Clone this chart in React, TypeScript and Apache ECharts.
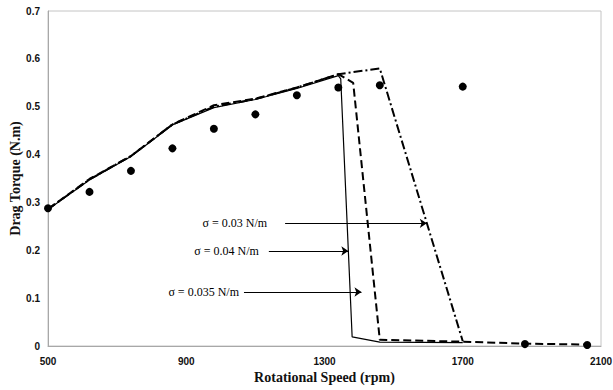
import React, { useEffect, useRef } from "react";
import * as echarts from "echarts";

const xTicks = [500, 900, 1300, 1700, 2100];
const expSpeed = [500, 620, 740, 860, 980, 1100, 1220, 1340, 1460, 1700, 1880, 2060];
const expTorque = [0.288, 0.322, 0.366, 0.413, 0.454, 0.484, 0.524, 0.54, 0.545, 0.542, 0.004, 0.002];

const s003Speed = [500, 620, 740, 860, 980, 1100, 1220, 1340, 1460, 1700];
const s003Torque = [0.286, 0.348, 0.397, 0.463, 0.5, 0.516, 0.54, 0.568, 0.58, 0.01];
const s0035Speed = [500, 620, 740, 860, 980, 1100, 1220, 1340, 1383, 1460, 1700, 1880, 2060];
const s0035Torque = [0.286, 0.349, 0.397, 0.463, 0.503, 0.517, 0.54, 0.568, 0.55, 0.013, 0.009, 0.005, 0.003];
const s004Speed = [500, 620, 740, 860, 980, 1100, 1220, 1340, 1347, 1380, 1460, 1700];
const s004Torque = [0.285, 0.347, 0.396, 0.462, 0.498, 0.515, 0.538, 0.565, 0.558, 0.019, 0.008, 0.007];

const annotationLabels = ["σ = 0.03 N/m", "σ = 0.04 N/m", "σ = 0.035 N/m"];
const arrowStart = [1186, 1139, 1067];
const arrowEnd = [1596, 1369, 1407];
const arrowTorque = [0.2564, 0.1985, 0.1128];
const labelGap = [18, 10, 5];

const zip = (xs: number[], ys: number[]) => xs.map((x, i) => [x, ys[i]]);

export default function App() {
  const ref = useRef<HTMLDivElement>(null);
  useEffect(() => {
    if (!ref.current) return;
    const chart = echarts.init(ref.current, undefined, { renderer: "svg" });
    chart.setOption({
      animation: false,
      backgroundColor: "#fff",
      grid: {
        left: 48,
        top: 11,
        right: 12,
        bottom: 44,
        outerBoundsMode: "none",
        containLabel: false,
        show: true,
        borderColor: "#c4c4c4",
        borderWidth: 1,
      },
      xAxis: {
        type: "value",
        min: 500,
        max: 2100,
        name: "Rotational Speed (rpm)",
        nameLocation: "middle",
        nameGap: 24,
        nameMoveOverlap: false,
        nameTextStyle: { fontFamily: "Liberation Serif", fontWeight: "bold", fontSize: 14, color: "#111" },
        axisLine: { show: true, lineStyle: { color: "#a8a8a8", width: 1 } },
        axisTick: { show: false },
        splitLine: { show: false },
        axisLabel: {
          customValues: xTicks,
          margin: 10,
          fontFamily: "Liberation Sans",
          fontWeight: "bold",
          fontSize: 10,
          color: "#111",
          formatter: (v: number) => String(v),
        },
      },
      yAxis: {
        type: "value",
        min: 0,
        max: 0.7,
        interval: 0.1,
        name: "Drag Torque (N.m)",
        nameLocation: "middle",
        nameGap: 26,
        nameMoveOverlap: false,
        nameRotate: 90,
        nameTextStyle: { fontFamily: "Liberation Serif", fontWeight: "bold", fontSize: 14, color: "#111" },
        axisLine: { show: true, lineStyle: { color: "#a8a8a8", width: 1 } },
        axisTick: { show: false },
        splitLine: { show: false },
        axisLabel: {
          margin: 8,
          fontFamily: "Liberation Sans",
          fontWeight: "bold",
          fontSize: 10,
          color: "#111",
          formatter: (v: number) => String(Math.round(v * 10) / 10),
        },
      },
      series: [
        {
          name: "σ = 0.03 N/m",
          type: "line",
          data: zip(s003Speed, s003Torque),
          showSymbol: false,
          symbol: "none",
          lineStyle: { color: "#000", width: 2, type: [9, 3, 2, 3] },
          z: 3,
        },
        {
          name: "σ = 0.035 N/m",
          type: "line",
          data: zip(s0035Speed, s0035Torque),
          showSymbol: false,
          symbol: "none",
          lineStyle: { color: "#000", width: 2, type: [8, 4] },
          z: 3,
        },
        {
          name: "σ = 0.04 N/m",
          type: "line",
          data: zip(s004Speed, s004Torque),
          showSymbol: false,
          symbol: "none",
          lineStyle: { color: "#000", width: 1.2, type: "solid" },
          z: 4,
        },
        {
          name: "Experiment",
          type: "scatter",
          data: zip(expSpeed, expTorque),
          symbol: "circle",
          symbolSize: 8,
          itemStyle: { color: "#000", opacity: 1 },
          z: 5,
          markLine: {
            silent: true,
            animation: false,
            symbol: ["none", "arrow"],
            symbolSize: 7,
            lineStyle: { color: "#000", width: 1, type: "solid" },
            label: {
              show: true,
              position: "start",
              formatter: "{b}",
              fontFamily: "Liberation Serif",
              fontSize: 12,
              color: "#000",
            },
            data: annotationLabels.map((name, i) => [
              { name, coord: [arrowStart[i], arrowTorque[i]], label: { distance: labelGap[i] } },
              { coord: [arrowEnd[i], arrowTorque[i]] },
            ]),
          },
        },
      ],
    });
    return () => chart.dispose();
  }, []);
  return (
    <div
      ref={ref}
      style={{ position: "fixed", left: 0, top: 0, width: 613, height: 390, background: "#fff" }}
    />
  );
}
